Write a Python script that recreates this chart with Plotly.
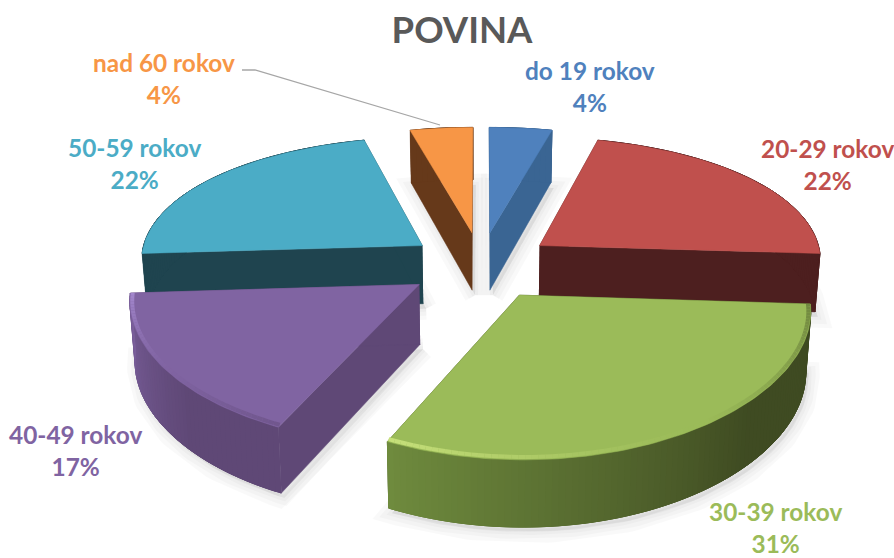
import numpy as np
import plotly.graph_objects as go

# ---- data ----
categories = ["do 19 rokov", "20-29 rokov", "30-39 rokov", "40-49 rokov", "50-59 rokov", "nad 60 rokov"]
values = [4, 22, 31, 17, 22, 4]

# ---- styles ----
top_colors = ["#4F81BD", "#C0504D", "#9BBB59", "#8064A2", "#4BACC6", "#F79646"]
side_colors = ["#3A6593", "#4D1F1F", "#3F4B22", "#5F4876", "#1F444F", "#66391A"]
rim_light = ["#3A6593", "#4D1F1F", "#6F8B3E", "#7A5F9B", "#1F444F", "#66391A"]
bevel_colors = [None, None, "#C6E07A", "#A286CC", None, None]
label_pos = [(590, 86), (827, 164), (775, 527), (75, 450), (134, 163), (164, 78)]
paint_order = [5, 0, 4, 1, 3, 2]

# projection of the tilted, exploded pie onto the axes
CX, CY, AX, BY, KX, KY, EXPLODE, DEPTH = 481, 265, 283, 130, 0.1, 0.15, 0.26, 59


def project(x, y):
    return CX + AX * x / (1 + KX * y), CY - BY * y / (1 + KY * y)


def hexrgb(c):
    return np.array([int(c[i:i + 2], 16) for i in (1, 3, 5)], float)


def lerp(a, b, t):
    r = hexrgb(a) * (1 - t) + hexrgb(b) * t
    return "rgb(%d,%d,%d)" % tuple(r)


def drop(px, py, wy):
    """bottom of the extrusion under a projected point"""
    return CX + (px - CX) * 0.985, py + DEPTH / (1 + 0.1 * wy)


fig = go.Figure()


def poly(xs, ys, color, line=None, width=0.5):
    fig.add_trace(go.Scatter(x=list(xs), y=list(ys), mode="lines", fill="toself", fillcolor=color,
                             line=dict(color=line or color, width=width), hoverinfo="skip", showlegend=False))


total = sum(values)
edges = np.cumsum([0] + values) / total * 2 * np.pi
geo = []
for i in range(len(values)):
    a0, a1 = edges[i], edges[i + 1]
    mid = (a0 + a1) / 2
    ox, oy = EXPLODE * np.sin(mid), EXPLODE * np.cos(mid)
    th = np.linspace(a0, a1, max(8, values[i] * 3))
    wx, wy = ox + np.sin(th), oy + np.cos(th)
    geo.append(dict(th=th, ox=ox, oy=oy, wx=wx, wy=wy))

# soft shadows
for g in geo:
    px, py = project(g["wx"], g["wy"])
    tx, ty = project(g["ox"], g["oy"])
    bx, by = drop(px, py, g["wy"])
    btx, bty = drop(tx, ty, g["oy"])
    for w in (22, 14, 6):
        poly(np.r_[btx + 3, bx + 3, btx + 3], np.r_[bty + 5, by + 5, bty + 5],
             "rgba(0,0,0,0.025)", "rgba(0,0,0,0.025)", w)

for i in paint_order:
    g = geo[i]
    px, py = project(g["wx"], g["wy"])
    tx, ty = project(g["ox"], g["oy"])
    bx, by = drop(px, py, g["wy"])
    btx, bty = drop(tx, ty, g["oy"])
    # radial faces
    for k in (0, -1):
        poly([tx, px[k], bx[k], btx], [ty, py[k], by[k], bty], side_colors[i])
    # outer rim: a base band, then overlapping coloured pieces so no seams show
    poly(np.r_[px, bx[::-1]], np.r_[py, by[::-1]], side_colors[i])
    n = len(px)
    for k in range(n - 1):
        t = np.clip((k / (n - 2) - 0.35) / 0.65, 0, 1)
        c = lerp(side_colors[i], rim_light[i], t)
        e = min(k + 2, n - 1)
        poly([px[k], px[e], bx[e], bx[k]], [py[k], py[e], by[e], by[k]], c, width=1)
    # top face
    poly(np.r_[tx, px, tx], np.r_[ty, py, ty], top_colors[i])
    # bevel along the front edge
    if bevel_colors[i]:
        ix, iy = project(g["ox"] + 0.992 * np.sin(g["th"]), g["oy"] + 0.985 * np.cos(g["th"]))
        for k in range(n - 1):
            s = k / (n - 2)
            if s > 0.45:
                c = lerp(top_colors[i], bevel_colors[i], ((s - 0.45) / 0.55) ** 1.5)
            else:
                c = lerp(top_colors[i], side_colors[i], (0.45 - s) / 0.45 * 0.45)
            fig.add_trace(go.Scatter(x=[ix[k], ix[k + 1]], y=[iy[k], iy[k + 1]], mode="lines",
                                     line=dict(color=c, width=4), hoverinfo="skip", showlegend=False))

# leader line of the last label
fig.add_shape(type="path", path="M 242 70 L 255 70 L 440 125", line=dict(color="#A6A6A6", width=1.3))

for name, v, c, (x, y) in zip(categories, values, top_colors, label_pos):
    fig.add_annotation(x=x, y=y, text=f"<b>{name}<br>{v}%</b>", showarrow=False, xanchor="center", yanchor="middle",
                       font=dict(family="Lato", size=24.4, color=c), align="center")

fig.update_layout(
    width=894, height=558, margin=dict(l=0, r=0, t=0, b=0), paper_bgcolor="white", plot_bgcolor="white",
    title=dict(text="<b>POVINA</b>", x=462 / 894, xanchor="center", y=1 - 30 / 558, yanchor="middle",
               font=dict(family="Lato", size=36.5, color="#595959")),
    xaxis=dict(range=[0, 894], visible=False, fixedrange=True),
    yaxis=dict(range=[558, 0], visible=False, fixedrange=True),
    showlegend=False,
)
fig.write_html("out.html", config={"displayModeBar": False},
               post_script="document.body.style.margin='0';document.documentElement.style.overflow='hidden';")
